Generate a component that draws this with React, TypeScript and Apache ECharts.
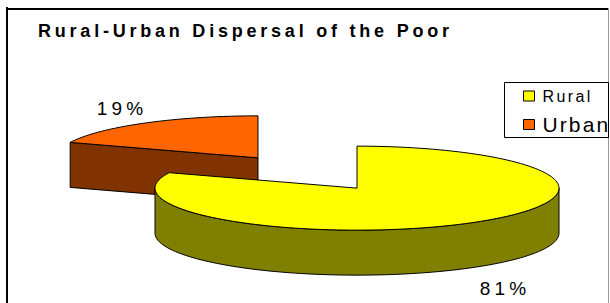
import React, { useEffect, useRef } from 'react';
import * as echarts from 'echarts';

// ---- data ----
const categories = ['Rural', 'Urban'];
const shares = [81, 19];
const titleText = 'Rural-Urban Dispersal of the Poor';

// ---- styles / layout ----
const topColors = ['#FFFF00', '#FF6600'];
const sideColors = ['#808000', '#803300'];
const FONT = "'Liberation Sans', Arial, Helvetica, sans-serif";
const PIE = { cx: 307.5, cy: 173, rx: 202, ry: 42, depth: 45, explode: 0.436, labelR: 1.25, labelDx: 6 };

const total = shares.reduce((a, b) => a + b, 0);
const starts: number[] = [];
{
  let acc = 0;
  shares.forEach((v) => {
    starts.push((acc / total) * 360);
    acc += v;
  });
}
const rad = (d: number) => (d * Math.PI) / 180;

function buildSlice(i: number) {
  const a0 = starts[i];
  const a1 = a0 + (shares[i] / total) * 360;
  const mid = (a0 + a1) / 2;
  const sx = PIE.cx + Math.sin(rad(mid)) * PIE.rx * PIE.explode;
  const sy = PIE.cy - Math.cos(rad(mid)) * PIE.ry * PIE.explode;
  const pt = (t: number, d = 0) => [sx + Math.sin(rad(t)) * PIE.rx, sy - Math.cos(rad(t)) * PIE.ry + d];
  const arc = (t0: number, t1: number, d = 0) => {
    const n = Math.max(2, Math.ceil((t1 - t0) / 2));
    const out: number[][] = [];
    for (let k = 0; k <= n; k++) out.push(pt(t0 + ((t1 - t0) * k) / n, d));
    return out;
  };
  const stroke = { stroke: '#000', lineWidth: 1, lineJoin: 'round' };
  const children: any[] = [];
  if (Math.sin(rad(a0)) < -1e-6) {
    children.push({
      type: 'polygon',
      shape: { points: [[sx, sy], pt(a0), pt(a0, PIE.depth), [sx, sy + PIE.depth]] },
      style: { fill: sideColors[i], ...stroke },
    });
  }
  if (Math.sin(rad(a1)) > 1e-6) {
    children.push({
      type: 'polygon',
      shape: { points: [[sx, sy], pt(a1), pt(a1, PIE.depth), [sx, sy + PIE.depth]] },
      style: { fill: sideColors[i], ...stroke },
    });
  }
  for (const [f0, f1] of [[90, 270], [450, 630]]) {
    const t0 = Math.max(a0, f0);
    const t1 = Math.min(a1, f1);
    if (t1 > t0) {
      const topA = arc(t0, t1);
      const botA = arc(t0, t1, PIE.depth).reverse();
      children.push({
        type: 'polygon',
        shape: { points: [...topA, ...botA] },
        style: { fill: sideColors[i], ...stroke },
      });
    }
  }
  children.push({
    type: 'polygon',
    shape: { points: [[sx, sy], ...arc(a0, a1)] },
    style: { fill: topColors[i], ...stroke },
  });
  const dx = Math.sin(rad(mid));
  const dy = -Math.cos(rad(mid));
  const lx = sx + dx * PIE.rx * PIE.labelR + PIE.labelDx;
  const ly = sy + dy * PIE.ry * PIE.labelR + (dy > 0 ? PIE.depth + 12 : -6);
  children.push({
    type: 'text',
    style: {
      text: Math.round((shares[i] / total) * 100) + '%',
      x: lx,
      y: ly,
      fill: '#000',
      fontSize: 19,
      fontFamily: FONT,
      align: 'center',
      verticalAlign: 'middle',
    },
  });
  return { type: 'group', children };
}

// back slices first
const drawOrder = categories
  .map((_, i) => i)
  .sort((a, b) => {
    const ma = starts[a] + (shares[a] / total) * 180;
    const mb = starts[b] + (shares[b] / total) * 180;
    return -Math.cos(rad(ma)) - -Math.cos(rad(mb));
  });

export default function App() {
  const ref = useRef<HTMLDivElement>(null);
  useEffect(() => {
    if (!ref.current) return;
    const chart = echarts.init(ref.current, undefined, { renderer: 'svg' });
    chart.setOption({
      animation: false,
      backgroundColor: '#fff',
      title: {
        text: titleText,
        left: 38,
        top: 22,
        padding: 0,
        textStyle: { fontSize: 18, fontWeight: 'bold', fontFamily: FONT, color: '#000' },
      },
      legend: {
        data: categories,
        orient: 'vertical',
        left: 523,
        top: 88,
        padding: 0,
        itemGap: 10,
        itemWidth: 11,
        itemHeight: 10,
        icon: 'rect',
        selectedMode: false,
        itemStyle: { borderColor: '#000', borderWidth: 1 },
        formatter: (name: string) => `{${name}|${name}}`,
        textStyle: {
          color: '#000',
          fontFamily: FONT,
          rich: {
            Rural: { fontSize: 16, fontFamily: FONT, color: '#000', padding: [0, 0, 0, 3] },
            Urban: { fontSize: 21, fontFamily: FONT, color: '#000', padding: [0, 0, 0, 3] },
          },
        },
      },
      graphic: [
        { type: 'line', shape: { x1: 7, y1: 7, x2: 7, y2: 310 }, style: { stroke: '#000', lineWidth: 2 } },
        { type: 'line', shape: { x1: 6, y1: 9, x2: 609, y2: 9 }, style: { stroke: '#000', lineWidth: 2 } },
        { type: 'line', shape: { x1: 608.5, y1: 8, x2: 608.5, y2: 310 }, style: { stroke: '#999', lineWidth: 1 } },
        {
          type: 'rect',
          shape: { x: 504.5, y: 82.5, width: 104, height: 55 },
          style: { fill: 'none', stroke: '#000', lineWidth: 1 },
        },
      ],
      series: drawOrder.map((i) => ({
        type: 'custom',
        name: categories[i],
        coordinateSystem: 'none',
        silent: true,
        itemStyle: { color: topColors[i] },
        data: [[shares[i]]],
        renderItem: () => buildSlice(i),
      })),
    });
    return () => chart.dispose();
  }, []);
  return (
    <>
      <style>{`
        body { margin: 0; }
        #chart svg text { letter-spacing: 0.22em; }
        #chart svg text[style*="18px"], #chart svg text[font-size="18"] { letter-spacing: 0.21em; }
        #chart svg text[style*="16px"], #chart svg text[font-size="16"] { letter-spacing: 0.15em; }
        #chart svg text[style*="21px"], #chart svg text[font-size="21"] { letter-spacing: 0.1em; }
      `}</style>
      <div
        id="chart"
        ref={ref}
        style={{ position: 'absolute', left: 0, top: 0, width: 610, height: 303 }}
      />
    </>
  );
}
